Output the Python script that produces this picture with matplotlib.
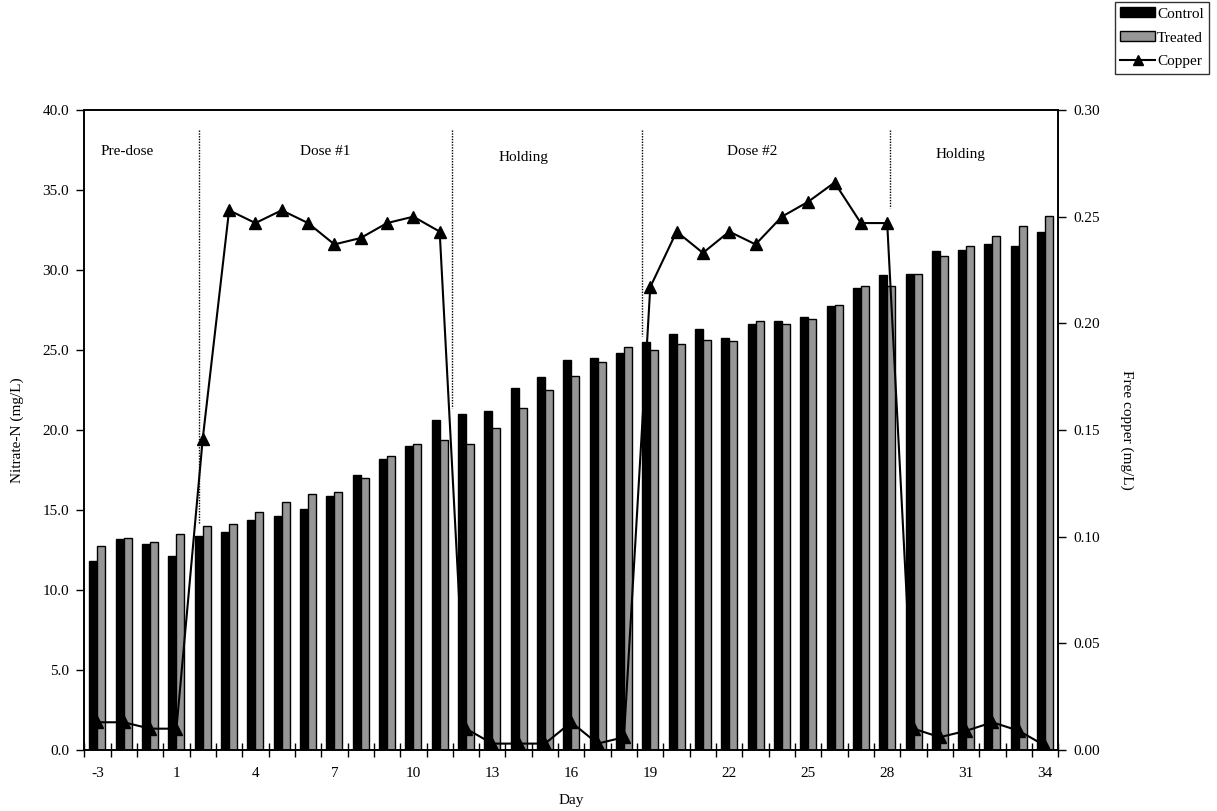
import matplotlib
matplotlib.use("Agg")
import matplotlib.pyplot as plt
import matplotlib.patches as mpatches
from matplotlib.lines import Line2D
import numpy as np

plt.rcParams["font.family"] = ["Liberation Serif", "DejaVu Serif"]
plt.rcParams["font.size"] = 11

# Days sampled (no day 0)
days = [-3, -2, -1] + list(range(1, 35))

control = [11.8, 13.2, 12.9, 12.15, 13.4, 13.6, 14.35, 14.65, 15.05, 15.9,
           17.2, 18.2, 19.0, 20.6, 21.0, 21.2, 22.65, 23.3, 24.4, 24.5,
           24.8, 25.5, 26.0, 26.3, 25.75, 26.6, 26.8, 27.05, 27.75, 28.85,
           29.7, 29.75, 31.2, 31.25, 31.6, 31.5, 32.35]

treated = [12.75, 13.25, 13.0, 13.5, 14.0, 14.1, 14.85, 15.5, 16.0, 16.15,
           17.0, 18.35, 19.15, 19.4, 19.15, 20.15, 21.4, 22.5, 23.35, 24.25,
           25.2, 25.0, 25.35, 25.6, 25.55, 26.8, 26.6, 26.95, 27.8, 29.0,
           29.0, 29.75, 30.9, 31.5, 32.1, 32.75, 33.4]

copper = [0.013, 0.013, 0.010, 0.010, 0.146, 0.253, 0.247, 0.253, 0.247, 0.237,
          0.240, 0.247, 0.250, 0.243, 0.010, 0.003, 0.003, 0.003, 0.013, 0.003,
          0.006, 0.217, 0.243, 0.233, 0.243, 0.237, 0.250, 0.257, 0.266, 0.247,
          0.247, 0.010, 0.006, 0.009, 0.013, 0.009, 0.002]

phase_labels = ["Pre-dose", "Dose #1", "Holding", "Dose #2", "Holding"]

CONTROL_COLOR = "black"
TREATED_COLOR = "#969696"

fig = plt.figure(figsize=(12.17, 8.11), dpi=100)
ax = fig.add_axes([84.3 / 1217, 61 / 811, 974 / 1217, 640 / 811])
ax2 = ax.twinx()

x = np.arange(len(days))
bar_w = 0.304

ax.bar(x - bar_w / 2, control, bar_w, color=CONTROL_COLOR,
       edgecolor="black", linewidth=1.0, zorder=2)
ax.bar(x + bar_w / 2, treated, bar_w, color=TREATED_COLOR,
       edgecolor="black", linewidth=1.0, zorder=2)

ax2.plot(x, copper, color="black", linewidth=1.5, marker="^",
         markersize=8.5, zorder=4)

ax.set_xlim(-0.5, len(days) - 0.5)
ax.set_ylim(0, 40)
ax2.set_ylim(0, 0.30)

# Left axis
ax.set_yticks(np.arange(0, 40.1, 5))
ax.set_yticklabels([f"{v:.1f}" for v in np.arange(0, 40.1, 5)])
ax.tick_params(axis="y", direction="out", length=6, width=1, pad=5)
ax.set_ylabel("Nitrate-N (mg/L)", labelpad=13)

# Right axis
ax2.set_yticks(np.arange(0, 0.301, 0.05))
ax2.set_yticklabels([f"{v:.2f}" for v in np.arange(0, 0.301, 0.05)])
ax2.tick_params(axis="y", direction="out", length=6, width=1, pad=5)
ax2.set_ylabel("Free copper (mg/L)", rotation=-90, labelpad=24)

# X axis: tick marks on category boundaries, labels every third day
ax.set_xticks(np.arange(-0.5, len(days), 1.0))
ax.set_xticklabels([])
ax.tick_params(axis="x", which="major", direction="inout", length=10, width=1)
label_idx = list(range(0, len(days), 3))
ax.set_xticks(label_idx, minor=True)
ax.set_xticklabels([str(days[i]) for i in label_idx], minor=True)
ax.tick_params(axis="x", which="minor", length=0, pad=12)
ax.set_xlabel("Day", labelpad=10)

for a in (ax, ax2):
    for s in a.spines.values():
        s.set_linewidth(1.2)

# Phase separators and labels
sep_x = [3.87, 13.48, 20.7, 30.12]
sep_bottom = [14.1, 21.4, 25.9, 33.9]
for sx, sb in zip(sep_x, sep_bottom):
    ax.plot([sx, sx], [38.75, sb], color="black", linestyle=(0, (1, 1)),
            linewidth=1.0, zorder=3)

label_x = [1.11, 8.64, 16.17, 24.87, 32.77]
label_y = [37.4, 37.4, 37.0, 37.4, 37.2]
for lx, ly, txt in zip(label_x, label_y, phase_labels):
    ax.text(lx, ly, txt, ha="center", va="center", fontsize=11)

# Legend
handles = [
    mpatches.Patch(facecolor=CONTROL_COLOR, edgecolor="black", label="Control"),
    mpatches.Patch(facecolor=TREATED_COLOR, edgecolor="black", label="Treated"),
    Line2D([0], [0], color="black", linewidth=1.5, marker="^", markersize=7,
           label="Copper"),
]
leg = fig.legend(handles=handles, loc="upper right",
                 bbox_to_anchor=(1209 / 1217, 1 - 2 / 811),
                 frameon=True, fancybox=False, edgecolor="black",
                 handlelength=2.3, handleheight=0.6, handletextpad=0.1,
                 labelspacing=0.7, borderpad=0.35, borderaxespad=0,
                 fontsize=11)
leg.get_frame().set_linewidth(1.0)

fig.savefig("out.png", dpi=100)
